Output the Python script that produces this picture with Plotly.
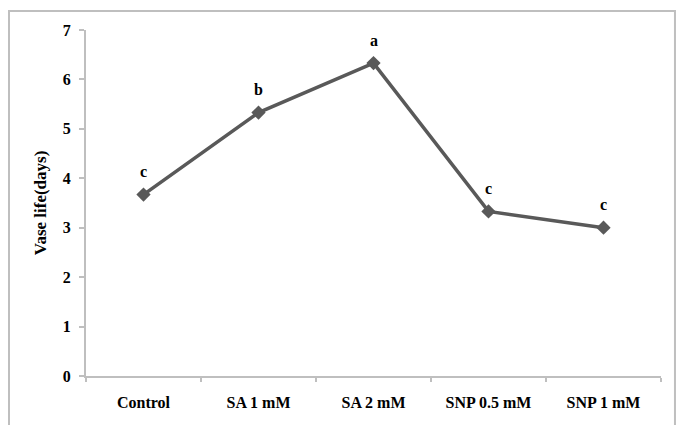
import plotly.graph_objects as go

# Vase life per treatment with significance letters
treatments = ["Control", "SA 1 mM", "SA 2 mM", "SNP 0.5 mM", "SNP 1 mM"]
vase_life = [3.67, 5.33, 6.33, 3.33, 3.0]
letters = ["c", "b", "a", "c", "c"]

FONT = "Liberation Serif"
AXIS_GREY = "#bfbfbf"
LINE_GREY = "#595959"

fig = go.Figure()
fig.add_trace(go.Scatter(
    x=treatments, y=vase_life,
    mode="lines+markers",
    line=dict(color=LINE_GREY, width=3.5),
    marker=dict(symbol="diamond", size=11, color=LINE_GREY),
    showlegend=False,
    hoverinfo="skip",
))

for t, v, s in zip(treatments, vase_life, letters):
    fig.add_annotation(
        x=t, y=v, text=f"<b>{s}</b>", showarrow=False, yshift=23,
        font=dict(family=FONT, size=16, color="black"),
    )

# outer frame around the chart area
fig.add_shape(
    type="rect", xref="paper", yref="paper",
    x0=-0.1339, x1=1.0243, y0=-0.2, y1=1.0549,
    line=dict(color=AXIS_GREY, width=2), fillcolor="rgba(0,0,0,0)",
    layer="below",
)

fig.update_layout(
    width=685, height=425,
    margin=dict(l=86, r=24, t=30, b=49),
    paper_bgcolor="white", plot_bgcolor="white",
    font=dict(family=FONT, size=16, color="black"),
    xaxis=dict(
        type="category", range=[-0.5, 4.5],
        showline=True, linecolor=AXIS_GREY, linewidth=2,
        ticks="outside", tickson="boundaries", ticklen=4,
        tickcolor=AXIS_GREY, tickwidth=2,
        showgrid=False, zeroline=False,
        tickfont=dict(family=FONT, size=16, weight="bold"),
        ticklabelstandoff=11,
    ),
    yaxis=dict(
        range=[0, 7], dtick=1, tick0=0,
        showline=True, linecolor=AXIS_GREY, linewidth=2,
        ticks="outside", ticklen=5, tickcolor=AXIS_GREY, tickwidth=2,
        showgrid=False, zeroline=False,
        tickfont=dict(family=FONT, size=16, weight="bold"),
        ticklabelstandoff=5,
        title=dict(text="<b>Vase life(days)</b>", standoff=12,
                   font=dict(family=FONT, size=17)),
    ),
)

fig.write_html("out.html")
